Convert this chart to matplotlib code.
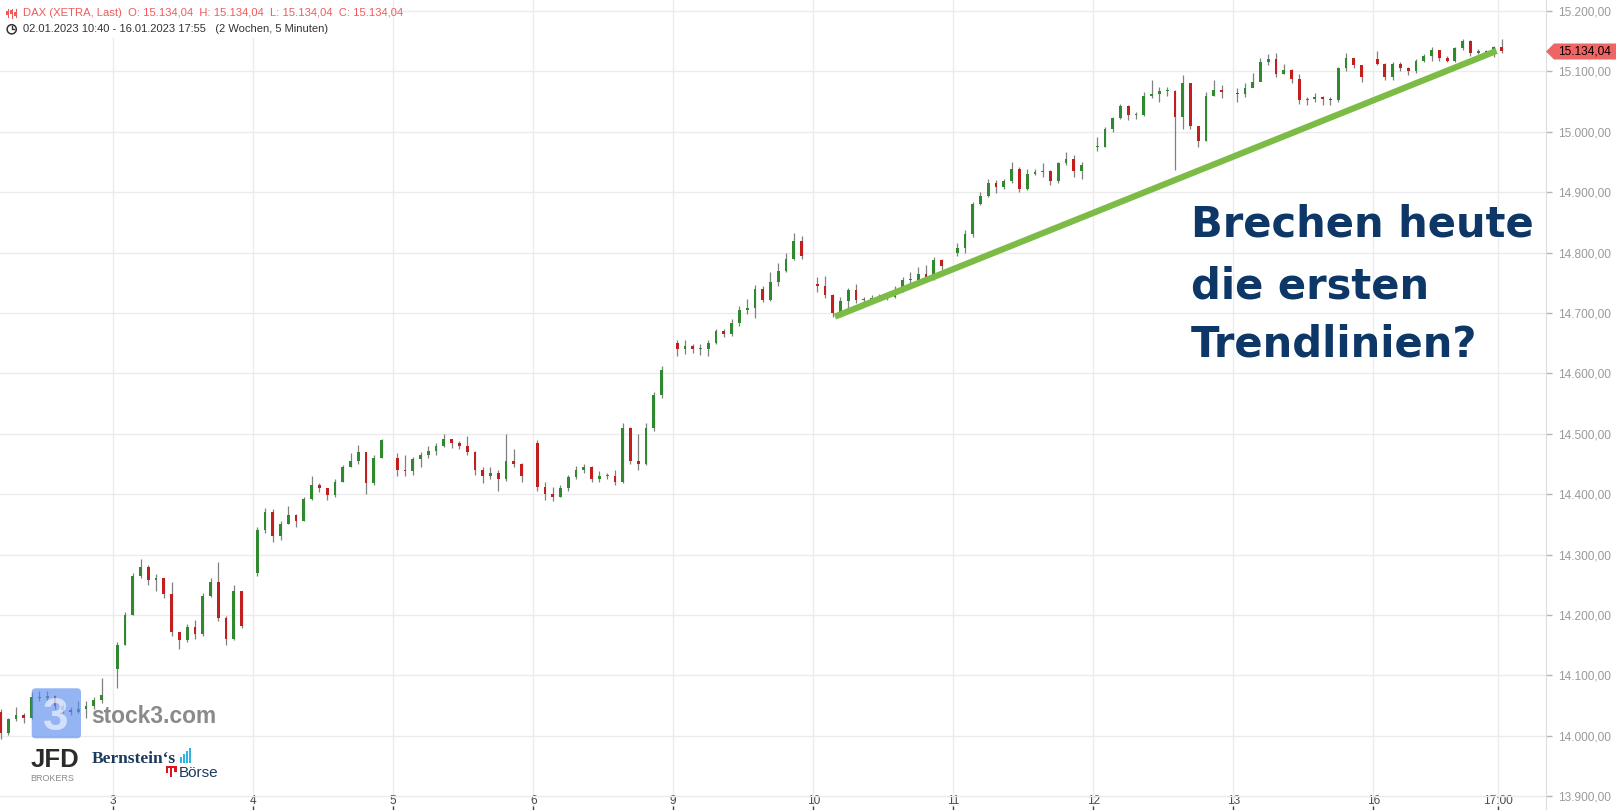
import matplotlib
matplotlib.use("Agg")
import matplotlib.pyplot as plt
import numpy as np
from matplotlib.patches import Circle, FancyBboxPatch, Polygon, Rectangle

# x axis: one trading day = 9:00-18:00 = 18 half-hour slots, day index 0 = Jan 2.
SLOTS_PER_DAY = 18
DAY_LABELS = ["2", "3", "4", "5", "6", "9", "10", "11", "12", "13", "16"]
FIRST_SLOT = [3, 0, 0, 0, 0, 0, 0, 0, 0, 0, 0]  # Jan 2 starts at 10:40
DAY_OPEN = [14040, 14110, 14270, 14460, 14485, 14650, 14748, 14800, 14975, 15065, 15120]

close_jan02 = [14005, 14028, 14035, 14030, 14065, 14062, 14066, 14050, 14042, 14040, 14045, 14050, 14060, 14068]
high_jan02 = [14045, 14030, 14048, 14038, 14072, 14075, 14075, 14068, 14052, 14048, 14058, 14058, 14064, 14095]
low_jan02 = [13995, 14002, 14025, 14022, 14028, 14058, 14060, 14045, 14038, 14035, 14038, 14030, 14045, 14055]

close_jan03 = [14150, 14200, 14265, 14280, 14258, 14262, 14235, 14172, 14158, 14180, 14168, 14232, 14255, 14195, 14160, 14240, 14182]
high_jan03 = [14155, 14205, 14270, 14292, 14282, 14268, 14262, 14255, 14172, 14185, 14192, 14236, 14262, 14288, 14198, 14250, 14240]
low_jan03 = [14080, 14150, 14200, 14262, 14250, 14240, 14228, 14165, 14143, 14155, 14160, 14165, 14230, 14190, 14150, 14158, 14178]

close_jan04 = [14340, 14370, 14330, 14350, 14365, 14355, 14392, 14415, 14410, 14398, 14420, 14445, 14455, 14470, 14418, 14460, 14490]
high_jan04 = [14345, 14378, 14376, 14355, 14380, 14368, 14396, 14430, 14418, 14410, 14425, 14448, 14468, 14482, 14470, 14465, 14492]
low_jan04 = [14265, 14335, 14321, 14325, 14350, 14345, 14355, 14390, 14403, 14390, 14395, 14420, 14445, 14450, 14400, 14415, 14460]

close_jan05 = [14440, 14438, 14458, 14465, 14472, 14480, 14492, 14485, 14480, 14470, 14440, 14430, 14435, 14425, 14455, 14450, 14430]
high_jan05 = [14468, 14465, 14462, 14470, 14480, 14485, 14500, 14492, 14488, 14497, 14472, 14445, 14445, 14440, 14500, 14475, 14452]
low_jan05 = [14430, 14430, 14432, 14445, 14460, 14465, 14478, 14476, 14475, 14465, 14432, 14418, 14425, 14405, 14422, 14445, 14420]

close_jan06 = [14412, 14400, 14395, 14410, 14428, 14440, 14445, 14425, 14430, 14430, 14420, 14510, 14455, 14450, 14510, 14565, 14605]
high_jan06 = [14490, 14420, 14412, 14415, 14432, 14447, 14450, 14447, 14438, 14435, 14440, 14518, 14512, 14500, 14518, 14570, 14612]
low_jan06 = [14405, 14390, 14388, 14395, 14405, 14425, 14435, 14420, 14420, 14425, 14415, 14418, 14450, 14440, 14448, 14505, 14560]

close_jan09 = [14640, 14645, 14640, 14640, 14650, 14670, 14665, 14683, 14705, 14708, 14740, 14722, 14752, 14770, 14790, 14820, 14795]
high_jan09 = [14655, 14656, 14648, 14648, 14655, 14673, 14673, 14690, 14712, 14724, 14746, 14745, 14768, 14782, 14800, 14832, 14828]
low_jan09 = [14628, 14632, 14634, 14630, 14628, 14648, 14660, 14662, 14678, 14698, 14692, 14718, 14720, 14745, 14768, 14788, 14790]

close_jan10 = [14745, 14730, 14700, 14720, 14738, 14722, 14723, 14725, 14728, 14727, 14738, 14755, 14755, 14765, 14760, 14788, 14778]
high_jan10 = [14760, 14762, 14732, 14726, 14742, 14748, 14727, 14730, 14732, 14732, 14745, 14760, 14768, 14776, 14780, 14792, 14790]
low_jan10 = [14735, 14725, 14693, 14693, 14708, 14716, 14716, 14718, 14720, 14722, 14725, 14735, 14750, 14748, 14752, 14755, 14772]

close_jan11 = [14808, 14830, 14880, 14893, 14915, 14908, 14918, 14938, 14905, 14930, 14933, 14935, 14918, 14948, 14955, 14935, 14945]
high_jan11 = [14816, 14838, 14884, 14900, 14922, 14920, 14922, 14950, 14942, 14938, 14938, 14948, 14936, 14950, 14966, 14962, 14950]
low_jan11 = [14795, 14800, 14826, 14878, 14892, 14898, 14905, 14915, 14900, 14903, 14928, 14925, 14912, 14915, 14945, 14925, 14922]

close_jan12 = [14975, 15005, 15023, 15042, 15028, 15028, 15060, 15062, 15068, 15068, 15025, 15080, 15010, 14985, 15060, 15070, 15066]
high_jan12 = [14992, 15008, 15025, 15046, 15044, 15032, 15066, 15086, 15074, 15074, 15070, 15094, 15080, 15010, 15066, 15086, 15078]
low_jan12 = [14968, 14975, 15000, 15022, 15020, 15022, 15026, 15056, 15050, 15060, 14937, 15005, 15005, 14975, 14985, 15060, 15056]

close_jan13 = [15062, 15072, 15082, 15115, 15120, 15095, 15102, 15088, 15052, 15054, 15058, 15054, 15052, 15105, 15122, 15110, 15090]
high_jan13 = [15072, 15080, 15098, 15122, 15128, 15130, 15112, 15104, 15096, 15058, 15064, 15060, 15058, 15108, 15131, 15120, 15110]
low_jan13 = [15050, 15058, 15074, 15090, 15110, 15090, 15096, 15080, 15046, 15044, 15050, 15045, 15044, 15050, 15100, 15106, 15083]

close_jan16 = [15112, 15090, 15112, 15106, 15100, 15118, 15125, 15135, 15122, 15118, 15138, 15150, 15130, 15133, 15130, 15140, 15134.04]
high_jan16 = [15134, 15114, 15116, 15116, 15108, 15120, 15128, 15140, 15136, 15126, 15141, 15154, 15152, 15137, 15136, 15142, 15153]
low_jan16 = [15110, 15085, 15086, 15100, 15094, 15098, 15116, 15118, 15118, 15115, 15116, 15136, 15126, 15128, 15126, 15124, 15130]

LAST_PRICE = 15134.04

# drawn trend line: (day index, price) of both ends
TREND_X = [6.155, 10.881]
TREND_Y = [14694, 15134]

Y_TICKS = list(range(13900, 15201, 100))
X_TICK_POS = [1, 2, 3, 4, 5, 6, 7, 8, 9, 10, 10 + 8 / 9]
X_TICK_LABELS = ["3", "4", "5", "6", "9", "10", "11", "12", "13", "16", "17:00"]

GREEN = "#2f8a2f"
RED = "#c41f1f"
WICK = "#808080"
NAVY = "#0d3766"

plt.rcParams["font.family"] = ["Liberation Sans", "DejaVu Sans"]


def de_num(v):
    return f"{v:,.2f}".replace(",", "X").replace(".", ",").replace("X", ".")


days = [
    (close_jan02, high_jan02, low_jan02),
    (close_jan03, high_jan03, low_jan03),
    (close_jan04, high_jan04, low_jan04),
    (close_jan05, high_jan05, low_jan05),
    (close_jan06, high_jan06, low_jan06),
    (close_jan09, high_jan09, low_jan09),
    (close_jan10, high_jan10, low_jan10),
    (close_jan11, high_jan11, low_jan11),
    (close_jan12, high_jan12, low_jan12),
    (close_jan13, high_jan13, low_jan13),
    (close_jan16, high_jan16, low_jan16),
]

xs, o, h, l, c = [], [], [], [], []
for d, (cl, hi, lo) in enumerate(days):
    prev = DAY_OPEN[d]
    for j in range(len(cl)):
        xs.append(d + (FIRST_SLOT[d] + j + 0.5) / SLOTS_PER_DAY)
        o.append(prev)
        c.append(cl[j])
        h.append(hi[j])
        l.append(lo[j])
        prev = cl[j]
xs, o, h, l, c = map(np.array, (xs, o, h, l, c))

W, H = 1616, 810
fig = plt.figure(figsize=(W / 100, H / 100), dpi=100)
ax = fig.add_axes([0, 0, 1545.7 / W, 1])

ax.vlines(xs, l, h, color=WICK, lw=0.9, zorder=2)
body_h = np.maximum(np.abs(c - o), 1.5)
ax.bar(xs, body_h, bottom=np.minimum(o, c), width=0.36 / SLOTS_PER_DAY,
       color=np.where(c >= o, GREEN, RED), lw=0, zorder=3)

ax.plot(TREND_X, TREND_Y, color="#7dbb47", lw=4.5, solid_capstyle="butt", zorder=4)

ax.set_xlim(0.1907, 11.232)
ax.set_ylim(13877.2, 15218.2)

ax.set_yticks(Y_TICKS, [de_num(v) for v in Y_TICKS])
ax.yaxis.tick_right()
ax.tick_params(axis="y", length=4, width=1, color="#b5b5b5", labelcolor="#9a9a9a",
               labelsize=8.6, pad=5)
ax.set_xticks(X_TICK_POS, X_TICK_LABELS)
ax.tick_params(axis="x", direction="in", length=3, width=1, color="#444",
               labelcolor="#4a4a4a", labelsize=8.6, pad=-10.5)
ax.grid(True, color="#ebebeb", lw=1, zorder=0)
ax.set_axisbelow(True)
for side in ("top", "left", "bottom"):
    ax.spines[side].set_visible(False)
ax.spines["right"].set_color("#dedede")

# overlay in pixel coordinates for header, logos and annotation
ov = fig.add_axes([0, 0, 1, 1], zorder=5)
ov.set_xlim(0, W)
ov.set_ylim(H, 0)
ov.axis("off")

ov.add_patch(Rectangle((0, 0), 392, 38, color="white", lw=0))
ov.text(23, 13.3, "DAX (XETRA, Last)  O: 15.134,04  H: 15.134,04  L: 15.134,04  C: 15.134,04",
        color="#ef5b5b", fontsize=8.1, va="center")
ov.text(23, 29.3, "02.01.2023 10:40 - 16.01.2023 17:55   (2 Wochen, 5 Minuten)",
        color="#333333", fontsize=8.0, va="center")
for cx, top, bot, b0, b1 in [(7.5, 9, 17, 11, 15), (11.5, 8.5, 17.5, 10, 14), (15.5, 9, 17, 12, 16)]:
    ov.plot([cx, cx], [top, bot], color="#ef5b5b", lw=0.8)
    ov.add_patch(Rectangle((cx - 1.2, b0), 2.4, b1 - b0, color="#ef5b5b", lw=0))
ov.add_patch(Circle((11.7, 29.3), 4.6, fill=False, ec="#333333", lw=1.1))
ov.plot([11.7, 11.7, 14.0], [26.3, 29.3, 29.3], color="#333333", lw=1.0)

# last price marker on the axis
ov.add_patch(Polygon([(1546, 51.5), (1554, 43.5), (1616, 43.5), (1616, 59.5), (1554, 59.5)],
                     closed=True, color="#f06464", lw=0))
ov.text(1584, 51.8, de_num(LAST_PRICE), fontsize=8.6, color="black", ha="center", va="center")

# annotation
for txt, base in [("Brechen heute", 236.7), ("die ersten", 298.3), ("Trendlinien?", 356.7)]:
    ov.text(1191, base, txt, fontsize=30, fontweight="bold", color=NAVY,
            family="DejaVu Sans", va="baseline", ha="left")

# stock3 logo
ov.add_patch(FancyBboxPatch((31.7, 688.3), 49.3, 50, boxstyle="round,pad=0,rounding_size=4",
                            fc="#5b8def", ec="none", alpha=0.65))
ov.text(55.5, 730, "3", fontsize=33, fontweight="bold", color="white", alpha=0.6,
        ha="center", va="baseline")
ov.text(91, 723, "stock3.com", fontsize=16.4, fontweight="bold", color="#7d7d7d",
        alpha=0.9, va="baseline")

# JFD / Bernstein's logos
ov.text(30.5, 767, "JFD", fontsize=18.5, fontweight="bold", color="#2b2b2b", va="baseline")
ov.text(30.7, 781, "BROKERS", fontsize=6.5, color="#8a8a8a", va="baseline")
ov.text(91.7, 763.3, "Bernstein\u2018s", fontsize=12.5, fontweight="bold", color="#1a3a5e",
        family="Liberation Serif", va="baseline")
for bx, bt in [(179.5, 757), (182.5, 754), (185.5, 751), (188.5, 748)]:
    ov.add_patch(Rectangle((bx, bt), 2, 763 - bt, color="#2fb3e3", lw=0))
ov.add_patch(Rectangle((165.5, 766), 11, 2.2, color="#e0141e", lw=0))
for rx, rb in [(166, 773), (170, 777), (174.3, 771.5)]:
    ov.add_patch(Rectangle((rx, 766), 2.2, rb - 766, color="#e0141e", lw=0))
ov.text(178.3, 777, "B\u00f6rse", fontsize=11, color="#1a3a5e", va="baseline")

fig.savefig("out.png", dpi=100)
